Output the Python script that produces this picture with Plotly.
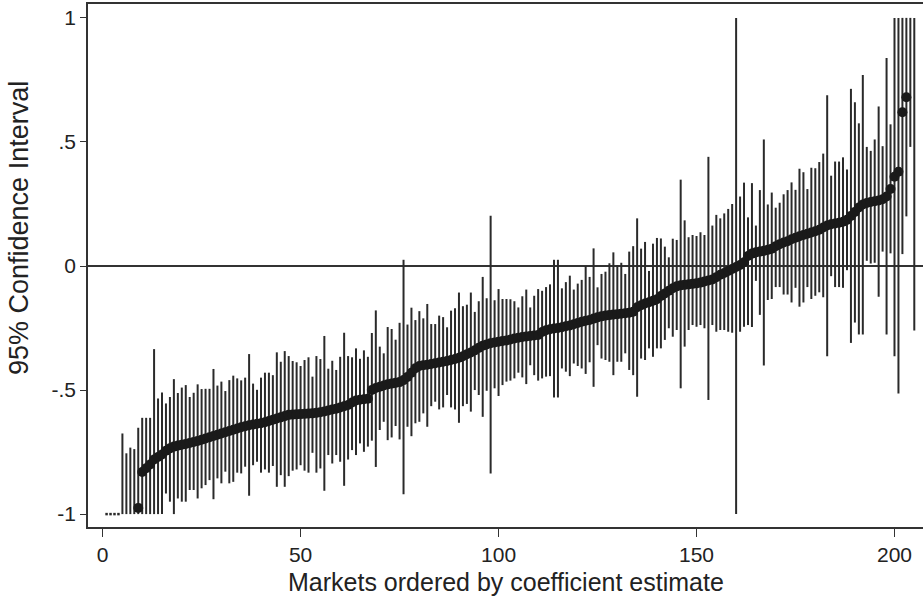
import plotly.graph_objects as go

# Market index (ordered by coefficient estimate)
market = list(range(1, 206))

# Point estimates (None = outside the plotted range, not drawn)
estimate = [
    None, None, None, None, None, None, None, None, -0.975, -0.83,
    -0.815, -0.80, -0.78, -0.77, -0.76, -0.745, -0.735, -0.728, -0.724, -0.72,
    -0.717, -0.713, -0.709, -0.705, -0.70, -0.695, -0.69, -0.685, -0.68, -0.675,
    -0.67, -0.665, -0.66, -0.655, -0.65, -0.646, -0.642, -0.639, -0.636, -0.634,
    -0.63, -0.625, -0.62, -0.615, -0.61, -0.605, -0.60, -0.599, -0.598, -0.597,
    -0.596, -0.595, -0.594, -0.592, -0.589, -0.586, -0.582, -0.578, -0.575, -0.57,
    -0.565, -0.56, -0.55, -0.542, -0.539, -0.537, -0.535, -0.50, -0.492, -0.487,
    -0.482, -0.477, -0.474, -0.471, -0.468, -0.46, -0.447, -0.43, -0.412, -0.403,
    -0.40, -0.398, -0.395, -0.392, -0.389, -0.386, -0.383, -0.379, -0.375, -0.37,
    -0.364, -0.356, -0.349, -0.34, -0.33, -0.321, -0.316, -0.311, -0.308, -0.305,
    -0.302, -0.30, -0.296, -0.292, -0.289, -0.286, -0.284, -0.282, -0.28, -0.278,
    -0.266, -0.259, -0.255, -0.252, -0.25, -0.247, -0.243, -0.24, -0.235, -0.23,
    -0.225, -0.221, -0.218, -0.212, -0.207, -0.203, -0.20, -0.198, -0.196, -0.194,
    -0.192, -0.19, -0.188, -0.184, -0.166, -0.158, -0.151, -0.146, -0.14, -0.134,
    -0.121, -0.111, -0.10, -0.09, -0.082, -0.078, -0.076, -0.074, -0.072, -0.07,
    -0.067, -0.062, -0.058, -0.054, -0.045, -0.035, -0.028, -0.02, -0.012, -0.004,
    0.004, 0.015, 0.04, 0.05, 0.055, 0.058, 0.061, 0.065, 0.07, 0.08,
    0.088, 0.095, 0.10, 0.108, 0.114, 0.12, 0.125, 0.13, 0.135, 0.14,
    0.146, 0.155, 0.163, 0.168, 0.171, 0.174, 0.178, 0.186, 0.202, 0.218,
    0.236, 0.248, 0.254, 0.258, 0.261, 0.264, 0.269, 0.28, 0.31, 0.36,
    0.38, 0.62, 0.68, None, None,
]

# Lower bound of the 95% CI (clipped at -1 as drawn)
ci_low = [
    -1.0, -1.0, -1.0, -1.0, -1.0, -1.0, -1.0, -1.0, -1.0, -1.0,
    -1.0, -1.0, -1.0, -1.0, -1.0, -0.917, -0.95, -1.0, -0.937, -0.95,
    -0.95, -0.903, -0.903, -0.937, -0.896, -0.883, -0.863, -0.94, -0.856, -0.876,
    -0.829, -0.876, -0.87, -0.833, -0.836, -0.809, -0.926, -0.803, -0.789, -0.833,
    -0.82, -0.833, -0.806, -0.89, -0.843, -0.89, -0.847, -0.825, -0.82, -0.803,
    -0.825, -0.833, -0.753, -0.833, -0.816, -0.906, -0.762, -0.796, -0.762, -0.789,
    -0.886, -0.78, -0.742, -0.762, -0.715, -0.749, -0.728, -0.704, -0.81, -0.661,
    -0.628, -0.702, -0.691, -0.645, -0.699, -0.92, -0.648, -0.686, -0.634, -0.628,
    -0.594, -0.648, -0.565, -0.547, -0.578, -0.57, -0.52, -0.57, -0.578, -0.632,
    -0.565, -0.556, -0.587, -0.50, -0.52, -0.608, -0.503, -0.836, -0.493, -0.524,
    -0.48, -0.466, -0.462, -0.453, -0.43, -0.449, -0.476, -0.40, -0.44, -0.462,
    -0.453, -0.446, -0.444, -0.53, -0.53, -0.413, -0.426, -0.444, -0.393, -0.403,
    -0.413, -0.435, -0.388, -0.487, -0.319, -0.373, -0.379, -0.386, -0.44, -0.386,
    -0.386, -0.352, -0.419, -0.44, -0.527, -0.373, -0.379, -0.332, -0.366, -0.332,
    -0.332, -0.298, -0.251, -0.285, -0.258, -0.493, -0.325, -0.258, -0.238, -0.245,
    -0.238, -0.251, -0.54, -0.238, -0.265, -0.258, -0.258, -0.265, -0.269, -1.0,
    -0.265, -0.245, -0.238, -0.246, -0.06, -0.197, -0.401, -0.137, -0.133, -0.085,
    -0.085, -0.115, -0.115, -0.147, -0.088, -0.164, -0.147, -0.085, -0.133, -0.12,
    -0.106, -0.126, -0.364, -0.041, -0.085, -0.085, -0.088, -0.017, -0.31, -0.228,
    -0.276, -0.276, 0.021, 0.01, 0.013, -0.124, 0.058, -0.276, 0.051, -0.364,
    -0.514, 0.048, 0.20, 0.48, -0.26,
]

# Upper bound of the 95% CI (clipped at 1 as drawn)
ci_high = [
    -1.0, -1.0, -1.0, -1.0, -0.675, -0.755, -0.732, -0.738, -0.652, -0.612,
    -0.612, -0.612, -0.335, -0.534, -0.51, -0.554, -0.528, -0.456, -0.512, -0.49,
    -0.48, -0.528, -0.511, -0.477, -0.496, -0.495, -0.495, -0.415, -0.482, -0.466,
    -0.504, -0.46, -0.442, -0.453, -0.461, -0.45, -0.355, -0.474, -0.499, -0.45,
    -0.43, -0.43, -0.44, -0.348, -0.386, -0.343, -0.363, -0.383, -0.388, -0.403,
    -0.379, -0.368, -0.446, -0.363, -0.375, -0.282, -0.414, -0.382, -0.419, -0.366,
    -0.269, -0.363, -0.368, -0.332, -0.374, -0.34, -0.366, -0.27, -0.179, -0.325,
    -0.352, -0.246, -0.254, -0.297, -0.229, 0.025, -0.236, -0.168, -0.218, -0.182,
    -0.211, -0.153, -0.234, -0.234, -0.20, -0.206, -0.247, -0.18, -0.17, -0.107,
    -0.162, -0.156, -0.107, -0.185, -0.142, -0.044, -0.13, 0.203, -0.138, -0.093,
    -0.133, -0.133, -0.134, -0.142, -0.167, -0.122, -0.095, -0.167, -0.12, -0.093,
    -0.10, -0.085, -0.074, 0.025, 0.025, -0.09, -0.065, -0.039, -0.095, -0.071,
    -0.056, 0.0, -0.044, 0.071, -0.086, -0.032, -0.023, 0.011, 0.055, 0.004,
    0.013, -0.032, 0.058, 0.08, 0.192, 0.07, 0.097, -0.02, 0.09, 0.113,
    0.111, 0.078, 0.035, 0.11, 0.105, 0.348, 0.184, 0.116, 0.125, 0.121,
    0.136, 0.125, 0.44, 0.163, 0.206, 0.192, 0.212, 0.23, 0.25, 1.0,
    0.28, 0.336, 0.196, 0.334, 0.163, 0.306, 0.51, 0.248, 0.296, 0.235,
    0.255, 0.289, 0.306, 0.337, 0.307, 0.392, 0.378, 0.31, 0.396, 0.394,
    0.419, 0.453, 0.688, 0.364, 0.421, 0.421, 0.438, 0.389, 0.714, 0.66,
    0.575, 0.77, 0.48, 0.464, 0.51, 0.643, 0.483, 0.838, 0.571, 1.0,
    1.0, 1.0, 1.0, 1.0, 1.0,
]

x_ticks = [0, 50, 100, 150, 200]
y_ticks = [-1, -0.5, 0, 0.5, 1]
y_tick_labels = ["-1", "-.5", "0", ".5", "1"]

INK = "#2a2a2a"

# CI spikes (one segment per market)
seg_x, seg_y = [], []
flat_x, flat_y = [], []
for m, lo, hi in zip(market, ci_low, ci_high):
    if hi - lo > 1e-9:
        seg_x += [m, m, None]
        seg_y += [lo, hi, None]
    else:
        flat_x.append(m)
        flat_y.append(lo)

fig = go.Figure()
fig.add_trace(go.Scatter(x=seg_x, y=seg_y, mode="lines",
                         line=dict(color=INK, width=2), hoverinfo="skip",
                         showlegend=False))
fig.add_trace(go.Scatter(x=flat_x, y=flat_y, mode="markers",
                         marker=dict(symbol="square", size=2.5, color=INK),
                         showlegend=False))
fig.add_trace(go.Scatter(x=market, y=estimate, mode="markers",
                         marker=dict(symbol="circle", size=10, color="#1a1a1a",
                                     line=dict(width=0)),
                         showlegend=False))

FONT = "Liberation Sans, Arial, sans-serif"
fig.update_layout(
    width=923, height=606,
    margin=dict(l=88, r=0, t=4, b=79),
    paper_bgcolor="white", plot_bgcolor="white",
    font=dict(family=FONT, color="#222"),
    showlegend=False,
    xaxis=dict(range=[-3.69, 207.2], tickvals=x_ticks, ticks="outside",
               ticklen=8, tickwidth=1.3, tickcolor="#333",
               showline=True, linecolor="#333", linewidth=1.5, mirror=True,
               showgrid=False, zeroline=False,
               tickfont=dict(size=21, family=FONT, color="#222")),
    yaxis=dict(range=[-1.052, 1.056], tickvals=y_ticks, ticktext=y_tick_labels,
               ticks="outside", ticklen=6, tickwidth=1.3, tickcolor="#333",
               showline=True, linecolor="#333", linewidth=1.5, mirror=False,
               showgrid=False, zeroline=True, zerolinecolor="#333",
               zerolinewidth=1.5,
               tickfont=dict(size=21, family=FONT, color="#222")),
    annotations=[
        dict(text="Markets ordered by coefficient estimate", xref="paper",
             yref="paper", x=0.5, y=(527 - 582) / 523, xanchor="center",
             yanchor="middle", showarrow=False,
             font=dict(size=25, family=FONT, color="#222")),
        dict(text="95% Confidence Interval", xref="paper", yref="paper",
             x=(19 - 88) / 835, y=(527 - 228) / 523, xanchor="center",
             yanchor="middle", textangle=-90, showarrow=False,
             font=dict(size=27, family=FONT, color="#222")),
    ],
)

fig.write_html("out.html")
